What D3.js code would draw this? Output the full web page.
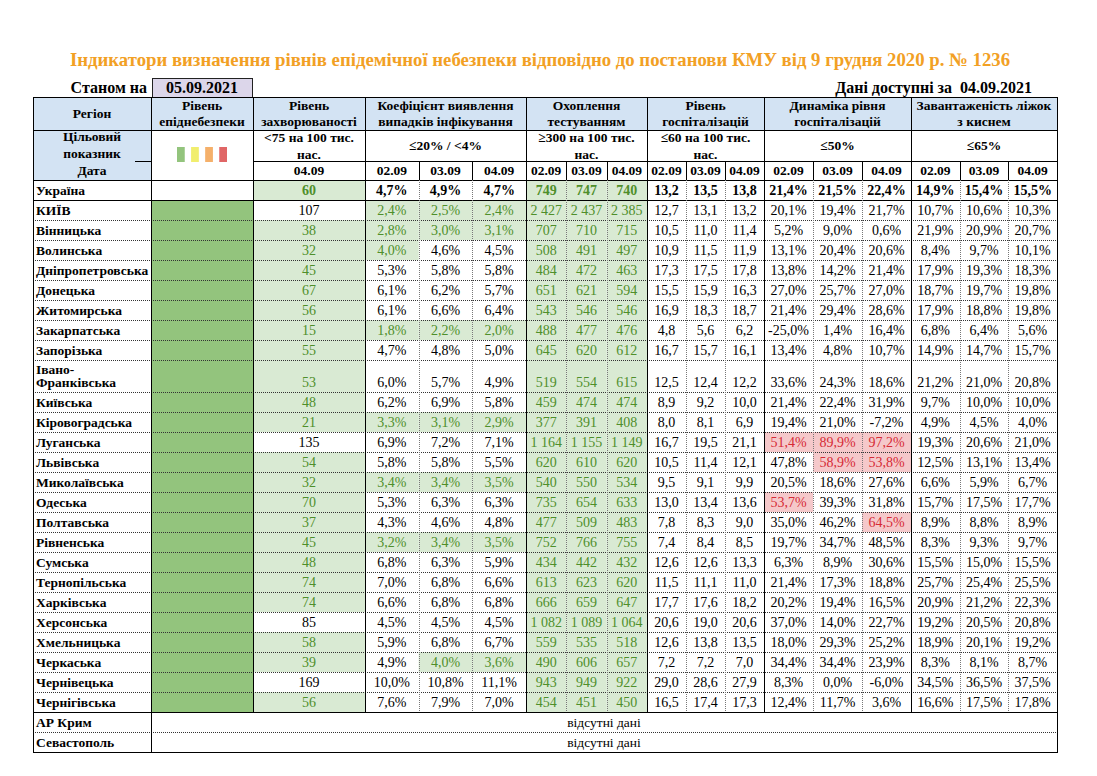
<!DOCTYPE html>
<html><head><meta charset="utf-8">
<script src="https://cdn.jsdelivr.net/npm/d3@7"></script>
<style>body{margin:0;background:#fff} svg{display:block} text{font-family:"Liberation Serif","Times New Roman",serif}</style>
</head><body><svg id="c" width="1097" height="776"></svg>
<script>
// ---------------- DATA ----------------
const titleText = "Індикатори визначення рівнів епідемічної небезпеки відповідно до постанови КМУ від 9 грудня 2020 р. № 1236";
const asOfDate = "05.09.2021";
const dataDate = "04.09.2021";
const regions = ["Україна","КИЇВ","Вінницька","Волинська","Дніпропетровська","Донецька","Житомирська","Закарпатська","Запорізька","Івано-\nФранківська","Київська","Кіровоградська","Луганська","Львівська","Миколаївська","Одеська","Полтавська","Рівненська","Сумська","Тернопільська","Харківська","Херсонська","Хмельницька","Черкаська","Чернівецька","Чернігівська"];
const epidLevel = ["", "green","green","green","green","green","green","green","green","green","green","green","green","green","green","green","green","green","green","green","green","green","green","green","green","green"];
const incidence = [60,107,38,32,45,67,56,15,55,53,48,21,135,54,32,70,37,45,48,74,74,85,58,39,169,56];
const detection = [[4.7,4.9,4.7],[2.4,2.5,2.4],[2.8,3.0,3.1],[4.0,4.6,4.5],[5.3,5.8,5.8],[6.1,6.2,5.7],[6.1,6.6,6.4],[1.8,2.2,2.0],[4.7,4.8,5.0],[6.0,5.7,4.9],[6.2,6.9,5.8],[3.3,3.1,2.9],[6.9,7.2,7.1],[5.8,5.8,5.5],[3.4,3.4,3.5],[5.3,6.3,6.3],[4.3,4.6,4.8],[3.2,3.4,3.5],[6.8,6.3,5.9],[7.0,6.8,6.6],[6.6,6.8,6.8],[4.5,4.5,4.5],[5.9,6.8,6.7],[4.9,4.0,3.6],[10.0,10.8,11.1],[7.6,7.9,7.0]];
const testing = [[749,747,740],[2427,2437,2385],[707,710,715],[508,491,497],[484,472,463],[651,621,594],[543,546,546],[488,477,476],[645,620,612],[519,554,615],[459,474,474],[377,391,408],[1164,1155,1149],[620,610,620],[540,550,534],[735,654,633],[477,509,483],[752,766,755],[434,442,432],[613,623,620],[666,659,647],[1082,1089,1064],[559,535,518],[490,606,657],[943,949,922],[454,451,450]];
const hospitalization = [[13.2,13.5,13.8],[12.7,13.1,13.2],[10.5,11.0,11.4],[10.9,11.5,11.9],[17.3,17.5,17.8],[15.5,15.9,16.3],[16.9,18.3,18.7],[4.8,5.6,6.2],[16.7,15.7,16.1],[12.5,12.4,12.2],[8.9,9.2,10.0],[8.0,8.1,6.9],[16.7,19.5,21.1],[10.5,11.4,12.1],[9.5,9.1,9.9],[13.0,13.4,13.6],[7.8,8.3,9.0],[7.4,8.4,8.5],[12.6,12.6,13.3],[11.5,11.1,11.0],[17.7,17.6,18.2],[20.6,19.0,20.6],[12.6,13.8,13.5],[7.2,7.2,7.0],[29.0,28.6,27.9],[16.5,17.4,17.3]];
const hospDynamics = [[21.4,21.5,22.4],[20.1,19.4,21.7],[5.2,9.0,0.6],[13.1,20.4,20.6],[13.8,14.2,21.4],[27.0,25.7,27.0],[21.4,29.4,28.6],[-25.0,1.4,16.4],[13.4,4.8,10.7],[33.6,24.3,18.6],[21.4,22.4,31.9],[19.4,21.0,-7.2],[51.4,89.9,97.2],[47.8,58.9,53.8],[20.5,18.6,27.6],[53.7,39.3,31.8],[35.0,46.2,64.5],[19.7,34.7,48.5],[6.3,8.9,30.6],[21.4,17.3,18.8],[20.2,19.4,16.5],[37.0,14.0,22.7],[18.0,29.3,25.2],[34.4,34.4,23.9],[8.3,0.0,-6.0],[12.4,11.7,3.6]];
const oxygenBeds = [[14.9,15.4,15.5],[10.7,10.6,10.3],[21.9,20.9,20.7],[8.4,9.7,10.1],[17.9,19.3,18.3],[18.7,19.7,19.8],[17.9,18.8,19.8],[6.8,6.4,5.6],[14.9,14.7,15.7],[21.2,21.0,20.8],[9.7,10.0,10.0],[4.9,4.5,4.0],[19.3,20.6,21.0],[12.5,13.1,13.4],[6.6,5.9,6.7],[15.7,17.5,17.7],[8.9,8.8,8.9],[8.3,9.3,9.7],[15.5,15.0,15.5],[25.7,25.4,25.5],[20.9,21.2,22.3],[19.2,20.5,20.8],[18.9,20.1,19.2],[8.3,8.1,8.7],[34.5,36.5,37.5],[16.6,17.5,17.8]];
const missingRegions = ["АР Крим","Севастополь"];
const missingText = "відсутні дані";
const dates = ["02.09","03.09","04.09"];
const incidenceDate = "04.09";
const headerLabels = ["Регіон","Рівень\nепіднебезпеки","Рівень\nзахворюваності","Коефіцієнт виявлення\nвипадків інфікування","Охоплення\nтестуванням","Рівень\nгоспіталізацій","Динаміка рівня\nгоспіталізацій","Завантаженість ліжок\nз киснем"];
const targetLabels = ["Цільовий\nпоказник","","<75 на 100 тис.\nнас.","≤20% / <4%","≥300 на 100 тис.\nнас.","≤60 на 100 тис.\nнас.","≤50%","≤65%"];
const levelNames = ["green","yellow","orange","red"];

// ---------------- LAYOUT ----------------
const svg = d3.select("#c");
const loc = d3.formatLocale({decimal:",", thousands:" ", grouping:[3], currency:["",""], minus:"-"});
const fInt = loc.format(",d"), f1 = loc.format(".1f"), fPct = v => loc.format(".1f")(v) + "%";
const C = {blue:"#d3e3f3", lgreen:"#d9ead3", gtext:"#4f8f2b", rbg:"#f5c8ca", rtext:"#d62a35", lav:"#dcd6ea", orange:"#f2a024"};
const levelColor = d3.scaleOrdinal(levelNames, ["#93c47d","#f1ee6e","#f5b06a","#e06666"]);

const X0 = 33, XR = 1057;
const groupEdges = [X0,151,253,365,526,647,764,911,XR];
const Y = {top:97, h1:130, h2:161, h3:180};
const subScales = [3,4,5,6,7].map(g => d3.scaleBand().domain(dates).range([groupEdges[g], groupEdges[g+1]]));
const incScale = d3.scaleBand().domain([incidenceDate]).range([groupEdges[2], groupEdges[3]]);

// row geometry
const rowH = regions.map(r => 20 + (r.split("\n").length - 1) * 12);
const rowTop = d3.cumsum([Y.h3, ...rowH]);
const yRow = d3.scaleOrdinal(regions, rowTop.slice(0, regions.length));
const hRow = d3.scaleOrdinal(regions, rowH);
const dataBottom = rowTop[regions.length];
const missTop = missingRegions.map((r,i) => dataBottom + i*20);
const tableBottom = dataBottom + missingRegions.length*20;

// ---------------- TITLE ----------------
svg.append("text").attr("x", 540).attr("y", 66).attr("text-anchor","middle")
  .attr("font-size", 19).attr("font-weight","bold").attr("fill", C.orange)
  .attr("textLength", 940).attr("lengthAdjust","spacingAndGlyphs").text(titleText);
svg.append("text").attr("x", 147).attr("y", 93).attr("text-anchor","end")
  .attr("font-size", 16).attr("font-weight","bold").text("Станом на");
svg.append("rect").attr("x", 152.5).attr("y", 78.5).attr("width", 100).attr("height", 19)
  .attr("fill", C.lav).attr("stroke","#222");
svg.append("text").attr("x", 202).attr("y", 93).attr("text-anchor","middle")
  .attr("font-size", 16).attr("font-weight","bold").text(asOfDate);
svg.append("text").attr("x", 1032).attr("y", 93).attr("text-anchor","end")
  .attr("font-size", 16).attr("font-weight","bold").attr("xml:space","preserve").text("Дані доступні за  " + dataDate);

// ---------------- HEADER ----------------
const g = svg.append("g");
g.append("rect").attr("x", X0).attr("y", Y.top).attr("width", XR-X0).attr("height", Y.h1-Y.top).attr("fill", C.blue);
g.append("rect").attr("x", X0).attr("y", Y.h1).attr("width", groupEdges[1]-X0).attr("height", Y.h3-Y.h1).attr("fill", C.blue);

function multiText(sel, x, yc, str, size, lh, attrs) {
  const lines = str.split("\n");
  const t = sel.append("text").attr("x", x).attr("text-anchor","middle").attr("font-size", size);
  Object.entries(attrs||{}).forEach(([k,v]) => t.attr(k,v));
  lines.forEach((l,i) => t.append("tspan").attr("x", x).attr("y", yc + (i - (lines.length-1)/2)*lh + size*0.35).text(l));
  return t;
}
headerLabels.forEach((lab,i) => {
  multiText(g, (groupEdges[i]+groupEdges[i+1])/2, (Y.top+Y.h1)/2, lab, 13.5, 16, {"font-weight":"bold"});
});
targetLabels.forEach((lab,i) => {
  if (!lab) return;
  const yc = i === 0 ? (Y.h1 + Y.h2)/2 - 1 : (Y.h1 + Y.h2)/2;
  multiText(g, (groupEdges[i]+groupEdges[i+1])/2, yc, lab, 13.5, 17, {"font-weight":"bold"});
});
// level legend squares
const sq = d3.scaleBand().domain(levelNames).range([177, 227]).paddingInner(0.45);
g.selectAll("rect.lv").data(levelNames).join("rect").attr("class","lv")
  .attr("x", d => sq(d)).attr("y", 147).attr("width", sq.bandwidth()).attr("height", 15).attr("fill", d => levelColor(d));
// date row
multiText(g, (groupEdges[0]+groupEdges[1])/2, (Y.h2+Y.h3)/2, "Дата", 13.5, 16, {"font-weight":"bold"});
multiText(g, incScale(incidenceDate) + incScale.bandwidth()/2, (Y.h2+Y.h3)/2, incidenceDate, 13.5, 16, {"font-weight":"bold"});
subScales.forEach(s => dates.forEach(d => multiText(g, s(d)+s.bandwidth()/2, (Y.h2+Y.h3)/2, d, 13.5, 16, {"font-weight":"bold"})));

// ---------------- BODY ----------------
const body = svg.append("g");
const metricSets = [
  {arr: detection, fmt: fPct, good: v => v <= 4.0, bad: () => false},
  {arr: testing, fmt: fInt, good: v => v >= 300, bad: () => false},
  {arr: hospitalization, fmt: f1, good: () => false, bad: () => false},
  {arr: hospDynamics, fmt: fPct, good: () => false, bad: v => v > 50},
  {arr: oxygenBeds, fmt: fPct, good: () => false, bad: () => false}
];
const FS = 14;
regions.forEach((r, ri) => {
  const y0 = yRow(r), h = hRow(r), yb = y0 + h - 5;
  const bold = ri === 0 ? "bold" : "normal";
  const lines = r.split("\n");
  const nt = body.append("text").attr("font-size", 13.5).attr("font-weight","bold");
  lines.forEach((l,i) => nt.append("tspan").attr("x", X0+3).attr("y", yb - (lines.length-1-i)*13).text(l));
  if (epidLevel[ri]) body.append("rect").attr("x", groupEdges[1]).attr("y", y0).attr("width", groupEdges[2]-groupEdges[1]).attr("height", h).attr("fill", levelColor(epidLevel[ri]));
  const inc = incidence[ri], incGood = inc < 75;
  if (incGood) body.append("rect").attr("x", incScale(incidenceDate)).attr("y", y0).attr("width", incScale.bandwidth()).attr("height", h).attr("fill", C.lgreen);
  body.append("text").attr("x", incScale(incidenceDate)+incScale.bandwidth()/2).attr("y", yb).attr("text-anchor","middle")
    .attr("font-size", FS).attr("font-weight", bold).attr("fill", incGood ? C.gtext : "#000").text(fInt(inc));
  metricSets.forEach((m, mi) => {
    const s = subScales[mi];
    dates.forEach((d, di) => {
      const v = m.arr[ri][di];
      const good = m.good(v), bad = m.bad(v);
      if (good || bad) body.append("rect").attr("x", s(d)).attr("y", y0).attr("width", s.bandwidth()).attr("height", h).attr("fill", good ? C.lgreen : C.rbg);
      body.append("text").attr("x", s(d)+s.bandwidth()/2).attr("y", yb).attr("text-anchor","middle")
        .attr("font-size", FS).attr("font-weight", bold).attr("fill", good ? C.gtext : bad ? C.rtext : "#000").text(m.fmt(v));
    });
  });
});
missingRegions.forEach((r,i) => {
  body.append("text").attr("x", X0+3).attr("y", missTop[i]+15).attr("font-size", 13.5).attr("font-weight","bold").text(r);
  body.append("text").attr("x", (groupEdges[1]+XR)/2).attr("y", missTop[i]+15).attr("text-anchor","middle").attr("font-size", 13.5).text(missingText);
});

// ---------------- GRID ----------------
const lines = svg.append("g").attr("shape-rendering","crispEdges");
const hl = (x1,x2,y,dotted) => lines.append("line").attr("x1",x1).attr("x2",x2).attr("y1",Math.round(y)+0.5).attr("y2",Math.round(y)+0.5)
  .attr("stroke", dotted ? "#333" : "#000").attr("stroke-width",1).attr("stroke-dasharray", dotted ? "1,1" : null);
const vl = (x,y1,y2,dotted) => lines.append("line").attr("x1",Math.round(x)+0.5).attr("x2",Math.round(x)+0.5).attr("y1",y1).attr("y2",y2)
  .attr("stroke", dotted ? "#777" : "#000").attr("stroke-width",1).attr("stroke-dasharray", dotted ? "1,1" : null);
hl(X0, XR, Y.top); hl(X0, XR, Y.h1); hl(groupEdges[2], XR, Y.h2); hl(135, groupEdges[1], Y.h2);
hl(X0, XR, Y.h3); hl(X0, XR, yRow(regions[1]));
regions.slice(2).forEach(r => hl(X0, XR, yRow(r), true));
hl(X0, XR, dataBottom);
missTop.slice(1).forEach(y => hl(X0, XR, y, true));
hl(X0, XR, tableBottom);
vl(X0, Y.top, tableBottom+1); vl(XR, Y.top, tableBottom+1); vl(groupEdges[1], Y.top, tableBottom+1);
groupEdges.slice(2, -1).forEach(x => vl(x, Y.top, dataBottom));
subScales.forEach(s => dates.slice(1).forEach(d => { vl(s(d), Y.h2, Y.h3); vl(s(d), Y.h3, dataBottom, true); }));
</script></body></html>
